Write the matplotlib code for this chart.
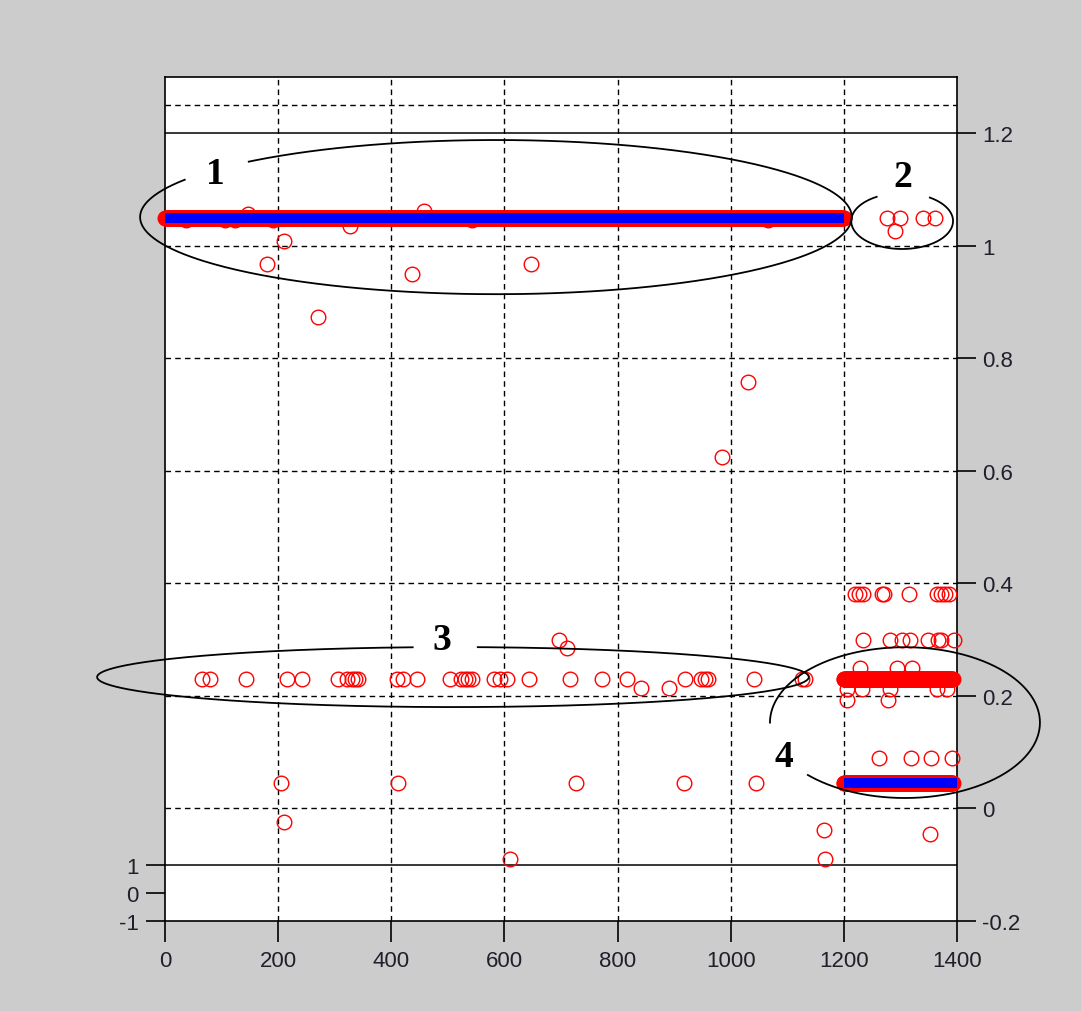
import numpy as np
import matplotlib
matplotlib.use("Agg")
import matplotlib.pyplot as plt

# dense runs of samples: (first index, last index, level)
run_top = (0, 1200, 1.05)
run_mid = (1200, 1393, 0.23)
run_low = (1200, 1393, 0.046)

# blue reference segments
blue_x1, blue_y1 = [0, 1200], [1.05, 1.05]
blue_x2, blue_y2 = [1200, 1400], [0.046, 0.046]

# scattered samples, group 1 (around 1.05)
g1_x = [38, 106, 124, 147, 180, 191, 211, 271, 327, 437, 457, 542, 647, 985, 1031, 1066]
g1_y = [1.045, 1.045, 1.045, 1.056, 0.967, 1.045, 1.009, 0.873, 1.035, 0.949, 1.062, 1.045,
        0.967, 0.624, 0.758, 1.045]

# group 2
g2_x = [1276, 1299, 1290, 1340, 1361]
g2_y = [1.05, 1.05, 1.026, 1.05, 1.05]

# group 3 (row near 0.23)
g3_x = [65, 79, 143, 215, 242, 306, 321, 330, 336, 342, 410, 421, 445, 504, 524, 530, 536, 542,
        582, 593, 605, 644, 716, 773, 816, 920, 947, 955, 960, 1042, 1126, 1131]
g3_y = [0.23] * len(g3_x)

# other points before 1200
other_x = [841, 891, 696, 710, 205, 412, 726, 917, 1045, 211, 610, 1165, 1167]
other_y = [0.214, 0.214, 0.30, 0.286, 0.046, 0.046, 0.046, 0.046, 0.046, -0.024, -0.09, -0.038, -0.089]

# group 4 (after 1200)
g4_x = [1220, 1226, 1234, 1267, 1271, 1316, 1365, 1372, 1379, 1386,
        1233, 1281, 1303, 1317, 1349, 1366, 1372, 1395,
        1229, 1294, 1320,
        1205, 1232, 1282, 1364, 1382,
        1206, 1278,
        1263, 1318, 1354, 1391,
        1352]
g4_y = [0.381] * 10 + [0.30] * 8 + [0.25] * 3 + [0.212] * 5 + [0.192] * 2 + [0.09] * 4 + [-0.046]

xticks = [0, 200, 400, 600, 800, 1000, 1200, 1400]
yticks = [-0.2, 0, 0.2, 0.4, 0.6, 0.8, 1.0, 1.2]
ytick_labels = ["-0.2", "0", "0.2", "0.4", "0.6", "0.8", "1", "1.2"]
strip_ticks = [-1, 0, 1]

# annotation rings: center x, center y, half width, half height, gap (deg)
rings = [
    (585, 1.051, 629, 0.137, 134, 151),
    (1303, 1.044, 90, 0.0497, 57, 120),
    (509, 0.2335, 629, 0.0533, 86, 96.5),
    (1308, 0.1526, 238.6, 0.134, 180, 224),
]
ring_labels = ["1", "2", "3", "4"]
ring_label_pos = [(89, 1.112), (1304, 1.106), (490, 0.283), (1094, 0.076)]

tick_color = "#20202c"
dash = (0, (4, 3))
plt.rcParams["font.family"] = ["Liberation Sans", "DejaVu Sans"]

fig = plt.figure(figsize=(10.81, 10.12), dpi=100, facecolor="#cccccc")
W, H = 1081, 1012
ax = fig.add_axes([165 / W, 90 / H, 792 / W, 844 / H])
ax.set_xlim(0, 1400)
ax.set_ylim(-0.2, 1.3)

for x in [200, 400, 600, 800, 1000, 1200]:
    ax.axvline(x, color="k", ls=dash, lw=1.0, zorder=1)
for y in [0, 0.2, 0.4, 0.6, 0.8, 1.0, 1.25]:
    ax.axhline(y, color="k", ls=dash, lw=1.0, zorder=1)
ax.axhline(1.2, color="k", lw=1.1, zorder=1)
ax.axhline(-0.1, color="k", lw=1.1, zorder=1)

mk = dict(ls="none", marker="o", mfc="none", mec="red", ms=10.5, mew=1.0, clip_on=False, zorder=3)
for start, end, level in [run_top, run_mid, run_low]:
    xs = np.arange(start, end + 1)
    ax.plot(xs, np.full(len(xs), level), **mk)
for xs, ys in [(g1_x, g1_y), (g2_x, g2_y), (g3_x, g3_y), (other_x, other_y), (g4_x, g4_y)]:
    ax.plot(xs, ys, **mk)

ax.plot(blue_x1, blue_y1, color="blue", lw=7.2, solid_capstyle="butt", zorder=4)
ax.plot(blue_x2, blue_y2, color="blue", lw=7.2, solid_capstyle="butt", zorder=4)

# hand-drawn style rings with a gap for the number
for (cx, cy, a, b, g0, g1), lab, (lx, ly) in zip(rings, ring_labels, ring_label_pos):
    t = np.radians(np.linspace(g1, g0 + 360, 500))
    ax.plot(cx + a * np.cos(t), cy + b * np.sin(t), color="k", lw=1.3, clip_on=False, zorder=5)
    ax.text(lx, ly, lab, ha="center", va="baseline", fontsize=27, fontweight="bold",
            family="Liberation Serif", color="k", zorder=6)

ax.yaxis.tick_right()
ax.set_yticks(yticks)
ax.set_yticklabels(ytick_labels)
ax.set_xticks(xticks)
ax.tick_params(axis="y", direction="out", length=14, width=1.2, pad=4,
               labelsize=16, labelcolor=tick_color)
ax.tick_params(axis="x", direction="out", length=15, width=1.2, pad=6,
               labelsize=16, labelcolor=tick_color)
for s in ax.spines.values():
    s.set_linewidth(1.2)

# small strip at the bottom with its own left scale
ax2 = fig.add_axes([165 / W, 90 / H, 792 / W, 844 / H * 0.1 / 1.5])
ax2.set_ylim(-1, 1)
ax2.set_xlim(0, 1400)
ax2.patch.set_alpha(0)
for s in ax2.spines.values():
    s.set_visible(False)
ax2.set_xticks([])
ax2.set_yticks(strip_ticks)
ax2.set_yticklabels([str(v) for v in strip_ticks])
ax2.tick_params(axis="y", direction="out", length=14, width=1.2, pad=5,
                labelsize=16, labelcolor=tick_color)

fig.savefig("out.png", dpi=100, facecolor=fig.get_facecolor())
